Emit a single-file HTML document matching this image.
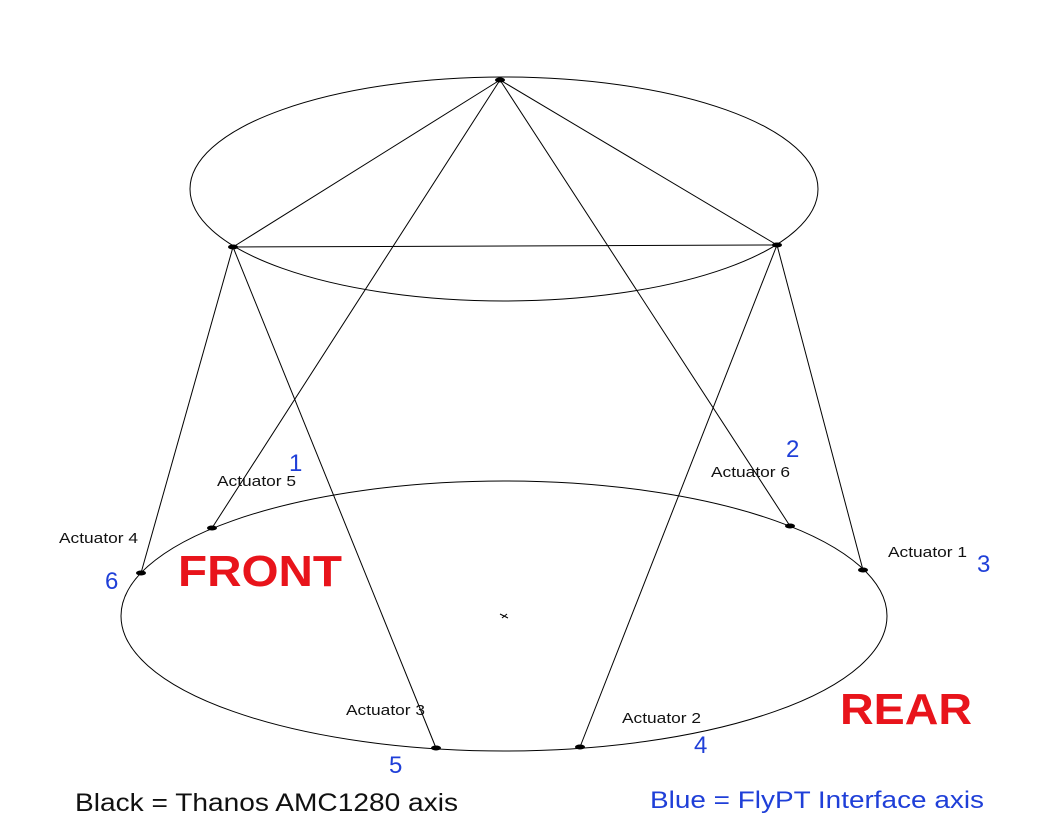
<!DOCTYPE html>
<html><head><meta charset="utf-8"><style>
html,body{margin:0;padding:0;background:#fff;}
svg{display:block;}
.a{font-family:"Liberation Sans",sans-serif;font-size:15px;fill:#111;}
.n{font-family:"Liberation Sans",sans-serif;font-size:24px;fill:#1f3fd8;}
.r{font-family:"Liberation Sans",sans-serif;font-size:44px;font-weight:bold;fill:#e8141b;}
</style></head><body>
<svg width="1040" height="837" viewBox="0 0 1040 837">
<g fill="none" stroke="#000" stroke-width="1">
<ellipse cx="504" cy="189" rx="314" ry="112"/>
<ellipse cx="504" cy="616" rx="383" ry="135"/>
<line x1="500" y1="80" x2="233" y2="247"/>
<line x1="500" y1="80" x2="777" y2="245"/>
<line x1="500" y1="80" x2="212" y2="528"/>
<line x1="500" y1="80" x2="790" y2="526"/>
<line x1="233" y1="247" x2="777" y2="245"/>
<line x1="233" y1="247" x2="141" y2="573"/>
<line x1="233" y1="247" x2="436" y2="748"/>
<line x1="777" y1="245" x2="580" y2="747"/>
<line x1="777" y1="245" x2="863" y2="570"/>
<path d="M500 614 L508 618 M502 618 L507 614"/>
</g>
<g fill="#000">
<ellipse cx="500" cy="80" rx="5" ry="2.5"/>
<ellipse cx="233" cy="247" rx="5" ry="2.5"/>
<ellipse cx="777" cy="245" rx="5" ry="2.5"/>
<ellipse cx="212" cy="528" rx="5" ry="2.5"/>
<ellipse cx="141" cy="573" rx="5" ry="2.5"/>
<ellipse cx="436" cy="748" rx="5" ry="2.5"/>
<ellipse cx="580" cy="747" rx="5" ry="2.5"/>
<ellipse cx="790" cy="526" rx="5" ry="2.5"/>
<ellipse cx="863" cy="570" rx="5" ry="2.5"/>
</g>
<text class="a" x="217" y="486" textLength="79" lengthAdjust="spacingAndGlyphs">Actuator 5</text>
<text class="a" x="59" y="543" textLength="79" lengthAdjust="spacingAndGlyphs">Actuator 4</text>
<text class="a" x="711" y="477" textLength="79" lengthAdjust="spacingAndGlyphs">Actuator 6</text>
<text class="a" x="888" y="557" textLength="79" lengthAdjust="spacingAndGlyphs">Actuator 1</text>
<text class="a" x="346" y="715" textLength="79" lengthAdjust="spacingAndGlyphs">Actuator 3</text>
<text class="a" x="622" y="723" textLength="79" lengthAdjust="spacingAndGlyphs">Actuator 2</text>
<text class="n" x="289" y="471">1</text>
<text class="n" x="786" y="457">2</text>
<text class="n" x="977" y="572">3</text>
<text class="n" x="105" y="589">6</text>
<text class="n" x="389" y="773">5</text>
<text class="n" x="694" y="753">4</text>
<text class="r" x="178" y="586" textLength="164" lengthAdjust="spacingAndGlyphs">FRONT</text>
<text class="r" x="840" y="724" textLength="132" lengthAdjust="spacingAndGlyphs">REAR</text>
<text x="75" y="811" textLength="383" lengthAdjust="spacingAndGlyphs" style="font-family:'Liberation Sans',sans-serif;font-size:25px;fill:#111">Black = Thanos AMC1280 axis</text>
<text x="650" y="808" textLength="334" lengthAdjust="spacingAndGlyphs" style="font-family:'Liberation Sans',sans-serif;font-size:24px;fill:#1f3fd8">Blue = FlyPT Interface axis</text>
</svg>
</body></html>
